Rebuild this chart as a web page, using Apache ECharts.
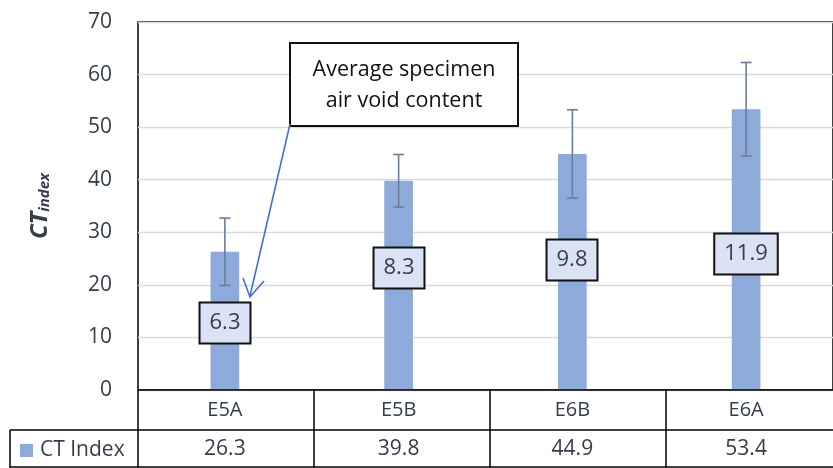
<!DOCTYPE html>
<html><head><meta charset="utf-8">
<script src="https://cdn.jsdelivr.net/npm/echarts@6/dist/echarts.min.js"></script>
<style>html,body{margin:0;padding:0;background:#fff}#c{width:833px;height:468px}</style>
</head><body><div id="c"></div>
<script>
const categories = ['E5A', 'E5B', 'E6B', 'E6A'];
const ctIndex = [26.3, 39.8, 44.9, 53.4];
const ctError = [6.4, 5.0, 8.4, 8.9];
const airVoid = [6.3, 8.3, 9.8, 11.9];
const airVoidLabelY = [12.8, 23.3, 24.7, 25.8];
const yTicks = { min: 0, max: 70, interval: 10 };

const FONT = '"Open Sans", sans-serif';
const TXT = '#343d4c';
const chart = echarts.init(document.getElementById('c'), null, { renderer: 'canvas' });

const G = { left: 138, top: 22, width: 704, height: 368 };

chart.setOption({
  animation: false,
  textStyle: { fontFamily: FONT },
  grid: Object.assign({ show: true, borderColor: '#000', borderWidth: 1.5, backgroundColor: 'transparent' }, G),
  xAxis: {
    type: 'category', data: categories,
    axisLine: { show: false }, axisTick: { show: false },
    axisLabel: {
      margin: 0, color: TXT, fontFamily: FONT,
      formatter: (v, i) => '{c|' + v + '}\n{v|' + ctIndex[i].toFixed(1) + '}',
      rich: {
        c: { fontSize: 20, color: TXT, fontFamily: FONT, height: 40, lineHeight: 40 },
        v: { fontSize: 21, color: TXT, fontFamily: FONT, height: 38, lineHeight: 38 }
      }
    }
  },
  yAxis: {
    type: 'value', min: yTicks.min, max: yTicks.max, interval: yTicks.interval,
    axisLine: { show: false }, axisTick: { show: false },
    axisLabel: { fontSize: 21, color: TXT, margin: 26, fontFamily: FONT },
    splitLine: { lineStyle: { color: '#d9d9d9', width: 1.3 } },
    name: '{a|CT}{b|index}', nameLocation: 'middle', nameGap: 86, nameRotate: 90,
    nameTextStyle: {
      rich: {
        a: { fontSize: 24, fontWeight: 'bold', fontStyle: 'italic', color: TXT, fontFamily: FONT, verticalAlign: 'bottom', lineHeight: 30 },
        b: { fontSize: 15, fontWeight: 'bold', fontStyle: 'italic', color: TXT, fontFamily: FONT, verticalAlign: 'bottom', lineHeight: 22 }
      }
    }
  },
  series: [
    {
      type: 'bar', name: 'CT Index', data: ctIndex, barWidth: '16.5%',
      itemStyle: { color: '#8eaadb' }, z: 2
    },
    {
      type: 'custom', name: 'err', z: 3,
      data: ctIndex.map((v, i) => [i, v - ctError[i], v + ctError[i]]),
      renderItem: (params, api) => {
        const lo = api.coord([api.value(0), api.value(1)]);
        const hi = api.coord([api.value(0), api.value(2)]);
        const hw = 5.5;
        const st = { stroke: '#6a7d9a', lineWidth: 1.6 };
        return { type: 'group', children: [
          { type: 'line', shape: { x1: lo[0], y1: lo[1], x2: hi[0], y2: hi[1] }, style: st },
          { type: 'line', shape: { x1: lo[0] - hw, y1: lo[1], x2: lo[0] + hw, y2: lo[1] }, style: st },
          { type: 'line', shape: { x1: hi[0] - hw, y1: hi[1], x2: hi[0] + hw, y2: hi[1] }, style: st }
        ] };
      }
    },
    {
      type: 'custom', name: 'airvoid', z: 5,
      data: airVoidLabelY.map((y, i) => [i, y]),
      renderItem: (params, api) => {
        const p = api.coord([api.value(0), api.value(1)]);
        return {
          type: 'text', x: Math.round(p[0]), y: Math.round(p[1]),
          style: {
            text: airVoid[params.dataIndex].toFixed(1),
            fontSize: 22, fill: TXT, fontFamily: FONT,
            align: 'center', verticalAlign: 'middle',
            backgroundColor: '#dae3f3', borderColor: '#111', borderWidth: 2,
            padding: [10, 9, 7, 9]
          }
        };
      }
    }
  ],
  graphic: [
    { type: 'line', shape: { x1: 138, y1: 390, x2: 833, y2: 390 }, style: { stroke: '#000', lineWidth: 1.5 }, z: 10 },
    { type: 'line', shape: { x1: 10, y1: 430, x2: 833, y2: 430 }, style: { stroke: '#000', lineWidth: 1.5 }, z: 10 },
    { type: 'line', shape: { x1: 10, y1: 467, x2: 833, y2: 467 }, style: { stroke: '#000', lineWidth: 1.5 }, z: 10 },
    { type: 'line', shape: { x1: 10, y1: 430, x2: 10, y2: 468 }, style: { stroke: '#000', lineWidth: 1.5 }, z: 10 },
    { type: 'line', shape: { x1: 138, y1: 390, x2: 138, y2: 468 }, style: { stroke: '#000', lineWidth: 1.5 }, z: 10 },
    { type: 'line', shape: { x1: 314, y1: 390, x2: 314, y2: 468 }, style: { stroke: '#000', lineWidth: 1.5 }, z: 10 },
    { type: 'line', shape: { x1: 490, y1: 390, x2: 490, y2: 468 }, style: { stroke: '#000', lineWidth: 1.5 }, z: 10 },
    { type: 'line', shape: { x1: 666, y1: 390, x2: 666, y2: 468 }, style: { stroke: '#000', lineWidth: 1.5 }, z: 10 },
    { type: 'rect', shape: { x: 20, y: 444, width: 13, height: 13 }, style: { fill: '#8eaadb' }, z: 10 },
    { type: 'text', x: 40, y: 450, style: { text: 'CT Index', fontSize: 21, fill: TXT, fontFamily: FONT, verticalAlign: 'middle' }, z: 10 },
    { type: 'rect', shape: { x: 290, y: 43, width: 228, height: 83 }, style: { fill: '#fff', stroke: '#111', lineWidth: 2 }, z: 20 },
    { type: 'text', x: 404, y: 85, style: { text: 'Average specimen\nair void content', fontSize: 21.5, lineHeight: 31, fill: '#111', fontFamily: FONT, align: 'center', verticalAlign: 'middle' }, z: 21 },
    { type: 'line', shape: { x1: 290, y1: 124, x2: 250, y2: 296 }, style: { stroke: '#4472c4', lineWidth: 1.6 }, z: 20 },
    { type: 'polyline', shape: { points: [[243, 278], [250, 297], [264, 281]] }, style: { stroke: '#4472c4', lineWidth: 1.6, fill: null }, z: 20 }
  ]
});
</script></body></html>
